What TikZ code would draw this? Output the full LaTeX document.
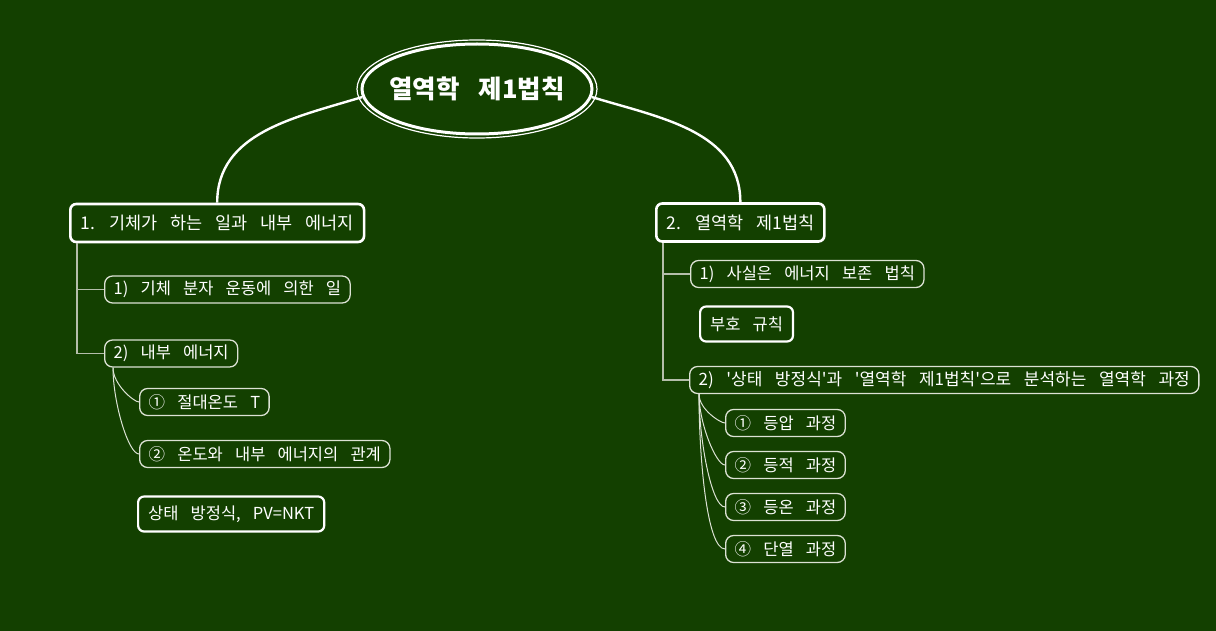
\documentclass[tikz,border=0pt]{standalone}
\usepackage{fontspec}
\setmainfont{Noto Sans CJK KR}[WordSpace=3.3]
\usetikzlibrary{positioning,shapes.geometric}
\definecolor{board}{HTML}{134000}
\definecolor{trunkgrey}{HTML}{B4BEAA}
\definecolor{subline}{HTML}{DCE2D4}
\tikzset{
  rootnode/.style={
    ellipse, draw=white, line width=3pt, fill=board, text=white,
    minimum width=230pt, minimum height=90pt, inner sep=0pt,
    font=\fontsize{25.5}{28}\selectfont\bfseries
  },
  mainbox/.style={
    rectangle, rounded corners=6pt, draw=white, line width=2.6pt, fill=board,
    text=white, minimum height=38pt, inner xsep=10pt, anchor=west,
    font=\fontsize{17.5}{20}\selectfont
  },
  notebox/.style={
    rectangle, rounded corners=6pt, draw=white, line width=2.2pt, fill=board,
    text=white, minimum height=35pt, inner xsep=10pt, anchor=west,
    font=\fontsize{16.5}{19}\selectfont
  },
  subbox/.style={
    rectangle, rounded corners=8pt, draw=subline, line width=1.3pt, fill=board,
    text=white, minimum height=27pt, inner xsep=9pt, inner ysep=0pt, anchor=west,
    font=\fontsize{16.5}{19}\selectfont
  },
  rootlink/.style={draw=white, line width=2.4pt},
  trunk/.style={draw=trunkgrey, line width=1.6pt},
  twig/.style={draw=subline, line width=1pt},
}
\begin{document}
\begin{tikzpicture}[x=1pt, y=-1pt]
  \fill[board] (0,0) rectangle (1216,631);
  \useasboundingbox (0,0) rectangle (1216,631);

  %% -- central topic --
  \node[rootnode] (root) at (477,89) {\makebox[0pt]{열역학 제1법칙}};
  \draw[white, line width=1.2pt] (root.center) ellipse [x radius=120, y radius=49];

  %% -- left branch --
  \node[mainbox] (gaswork) at (69,223) {1. 기체가 하는 일과 내부 에너지};
  \node[subbox] (molwork) at (104,289.5) {1) 기체 분자 운동에 의한 일};
  \node[subbox] (inner)   at (104,353.5) {2) 내부 에너지};
  \node[subbox] (abstemp) at (139,402) {① 절대온도 T};
  \node[subbox] (temprel) at (139,454) {② 온도와 내부 에너지의 관계};
  \node[notebox] (stateeq) at (137,514) {상태 방정식, PV=NKT};

  %% -- right branch --
  \node[mainbox] (firstlaw) at (655,222.5) {2. 열역학 제1법칙};
  \node[subbox] (conserve) at (690,274) {1) 사실은 에너지 보존 법칙};
  \node[notebox] (signrule) at (699,324) {부호 규칙};
  \node[subbox, font=\fontsize{17}{19}\selectfont] (process) at (689,380)
    {2) \textquotesingle 상태 방정식\textquotesingle 과 \textquotesingle 열역학 제1법칙\textquotesingle 으로 분석하는 열역학 과정};
  \node[subbox] (isobar)  at (725,423) {① 등압 과정};
  \node[subbox] (isochor) at (725,465) {② 등적 과정};
  \node[subbox] (isotherm) at (725,507) {③ 등온 과정};
  \node[subbox] (adiab)   at (725,549) {④ 단열 과정};

  %% -- links --
  \draw[rootlink] (root.184) to[out=197, in=90] (gaswork.north);
  \draw[rootlink] (root.-4) to[out=-17, in=90] (firstlaw.north);

  \draw[trunk] ([xshift=8pt]gaswork.south west) |- (molwork.west);
  \draw[trunk] ([xshift=8pt]gaswork.south west) |- (inner.west);
  \draw[trunk] ([xshift=8pt]firstlaw.south west) |- (conserve.west);
  \draw[trunk] ([xshift=8pt]firstlaw.south west) |- (process.west);

  \foreach \kid in {abstemp, temprel}
    \draw[twig] ([xshift=9pt]inner.south west) to[out=-90, in=180, in looseness=0.3] (\kid.west);
  \foreach \kid in {isobar, isochor, isotherm, adiab}
    \draw[twig] ([xshift=10pt]process.south west) to[out=-90, in=180, in looseness=0.3] (\kid.west);

\end{tikzpicture}
\end{document}
